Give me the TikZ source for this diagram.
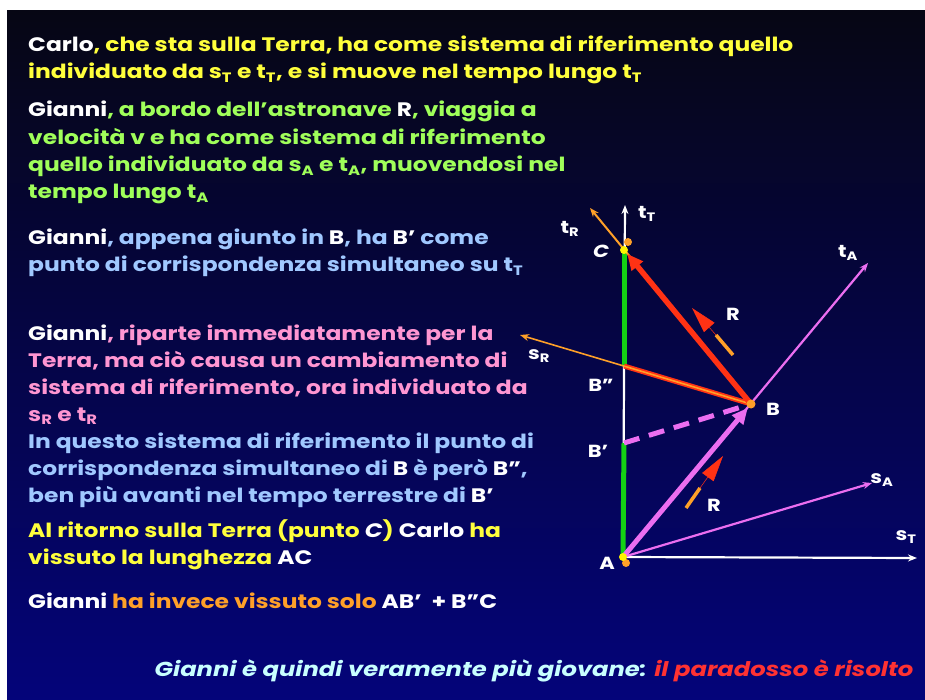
\documentclass[tikz,border=0pt]{standalone}
\usepackage{fontspec}
\setmainfont{Poppins}[FakeStretch=1.2]
\usetikzlibrary{arrows.meta,calc}
\definecolor{bgtop}{RGB}{6,6,20}
\definecolor{bgmid}{RGB}{8,8,80}
\definecolor{bgbot}{RGB}{4,4,122}
\definecolor{cyel}{RGB}{255,255,60}
\definecolor{cgrn}{RGB}{160,255,90}
\definecolor{cblu}{RGB}{160,200,255}
\definecolor{cpnk}{RGB}{255,150,210}
\definecolor{corg}{RGB}{255,160,40}
\definecolor{cred}{RGB}{255,50,20}
\definecolor{cmag}{RGB}{235,110,240}
\definecolor{cgreen}{RGB}{20,210,20}
\definecolor{ccyan}{RGB}{200,255,255}
\definecolor{cbred}{RGB}{255,50,50}
\newcommand{\W}[1]{\textcolor{white}{#1}}
\newcommand{\sbx}[1]{\textsubscript{#1}}
\tikzset{
  txt/.style={anchor=base west, inner sep=0pt, font=\fontsize{19.5}{22}\selectfont\bfseries},
  lab/.style={inner sep=0pt, text=white, font=\fontsize{17.5}{19}\selectfont\bfseries},
  thinax/.style={line width=2.2pt, -{Stealth[length=9pt,width=7pt]}},
  dotY/.style={fill=yellow, draw=none},
  dotO/.style={fill=corg, draw=none}
}
\begin{document}
\begin{tikzpicture}[x=1pt,y=-1pt]
\useasboundingbox (0,0) rectangle (925,700);
\fill[white] (0,0) rectangle (925,700);
\shade[top color=bgtop, middle color=bgmid, bottom color=bgbot] (7,11) rectangle (925,700);

% ---- text ----
\node[txt, text=cyel] (l1) at (28,52) {\W{Carlo}, che sta sulla Terra, ha come sistema di riferimento quello};
\node[txt, text=cyel] (l2) at (28,79) {individuato da s\sbx{T} e t\sbx{T}, e si muove nel tempo lungo t\sbx{T}};

\node[txt, text=cgrn] (g1) at (28,117) {\W{Gianni}, a bordo dell’astronave \W{R}, viaggia a};
\node[txt, text=cgrn] (g2) at (28,145) {velocità v e ha come sistema di riferimento};
\node[txt, text=cgrn] (g3) at (28,172) {quello individuato da s\sbx{A} e t\sbx{A}, muovendosi nel};
\node[txt, text=cgrn] (g4) at (28,199) {tempo lungo t\sbx{A}};

\node[txt, text=cblu] (b1) at (28,245) {\W{Gianni}, appena giunto in \W{B}, ha \W{B’} come};
\node[txt, text=cblu] (b2) at (28,272) {punto di corrispondenza simultaneo su t\sbx{T}};

\node[txt, text=cpnk] (p1) at (28,340) {\W{Gianni}, riparte immediatamente per la};
\node[txt, text=cpnk] (p2) at (28,367) {Terra, ma ciò causa un cambiamento di};
\node[txt, text=cpnk] (p3) at (28,394) {sistema di riferimento, ora individuato da};
\node[txt, text=cpnk] (p4) at (28,421) {s\sbx{R} e t\sbx{R}};

\node[txt, text=cblu] (q1) at (28,448) {In questo sistema di riferimento il punto di};
\node[txt, text=cblu] (q2) at (28,475) {corrispondenza simultaneo di \W{B} è però \W{B”},};
\node[txt, text=cblu] (q3) at (28,502) {ben più avanti nel tempo terrestre di \W{B’}};

\node[txt, text=cyel] (y1) at (28,537) {Al ritorno sulla Terra (punto \W{\itshape C}) \W{Carlo} ha};
\node[txt, text=cyel] (y2) at (28,564) {vissuto la lunghezza \W{AC}};

\node[txt, text=corg] (o1) at (28,608) {\W{Gianni} ha invece vissuto solo \W{AB’ \ + B”C}};

\node[anchor=base, inner sep=0pt, font=\fontsize{20.2}{22}\selectfont\bfseries\itshape, text=ccyan] (fin) at (534,676) {Gianni è quindi veramente più giovane: \textcolor{cbred}{il paradosso è risolto}};

% ---- diagram ----
\coordinate (A) at (623,557);
\coordinate (C) at (624,250);
\coordinate (Bpp) at (624,366);
\coordinate (Bp) at (624,443);
\coordinate (B) at (751,404);
\coordinate (tT) at (625,205);
\coordinate (tR) at (590,208);
\coordinate (sR) at (520,335);
\coordinate (tA) at (868,263);
\coordinate (sA) at (872,483);
\coordinate (sT) at (917,558);

% axes
\draw[white, thinax] (A) -- (tT);
\draw[white, thinax] (A) -- (sT);
\draw[cmag, thinax] (A) -- (tA);
\draw[cmag, thinax] (A) -- (sA);

% green segments
\draw[cgreen, line width=5pt] (C) -- (Bpp);
\draw[cgreen, line width=5pt] (Bp) -- (A);

% red simultaneity B'' - B and s_R axis
\draw[cred, line width=5pt] (Bpp) -- (B);
\draw[corg, line width=1.6pt, -{Stealth[length=9pt,width=7pt]}] (B) -- (sR);
% t_R axis
\draw[corg, line width=2pt, -{Stealth[length=9pt,width=7pt]}] (B) -- (tR);
% red return arrow
\draw[cred, line width=5.5pt, -{Triangle[length=16pt,width=14pt]}] (B) -- ($(C)!5pt!(B)$);

% magenta outbound arrow and dashed link
\draw[cmag, line width=5pt, dash pattern=on 16pt off 10pt] (Bp) -- ($(B)!5pt!(Bp)$);
\draw[cmag, line width=5pt, -{Triangle[length=16pt,width=14pt]}] (A) -- ($(B)!5pt!(A)$);

% rockets
\coordinate (r1t) at (733,355);
\coordinate (r1m) at (716,335);
\coordinate (r1h) at (692,308);
\draw[corg, line width=3.5pt] (r1t) -- (r1m);
\draw[cred, line width=0.5pt, -{Triangle[length=26pt,width=14pt]}] (r1m) -- (r1h);
\coordinate (r2t) at (686,508);
\coordinate (r2m) at (700,488);
\coordinate (r2h) at (723,456);
\draw[corg, line width=3.5pt] (r2t) -- (r2m);
\draw[cred, line width=0.5pt, -{Triangle[length=26pt,width=14pt]}] (r2m) -- (r2h);

% dots
\fill[dotO] (628,242) circle (4pt);
\fill[dotY] (C) circle (4pt);
\fill[dotO] (B) circle (4.5pt);
\fill[dotO] (626,563) circle (4pt);
\fill[dotY] (A) circle (4pt);

% labels
\node[lab] (LtT) at (647,214) {t\sbx{T}};
\node[lab] (LtR) at (570,229) {t\sbx{R}};
\node[lab] (LC) at (601,251) {\itshape C};
\node[lab] (LsR) at (539,356) {s\sbx{R}};
\node[lab] (LBpp) at (601,385) {B”};
\node[lab] (LBp) at (598,451) {B’};
\node[lab] (LB) at (773,409) {B};
\node[lab] (LA) at (607,563) {A};
\node[lab] (LtA) at (848,253) {t\sbx{A}};
\node[lab] (LsA) at (882,480) {s\sbx{A}};
\node[lab] (LsT) at (906,537) {s\sbx{T}};
\node[lab] (LR1) at (733,314) {R};
\node[lab] (LR2) at (714,505) {R};
\end{tikzpicture}
\end{document}
